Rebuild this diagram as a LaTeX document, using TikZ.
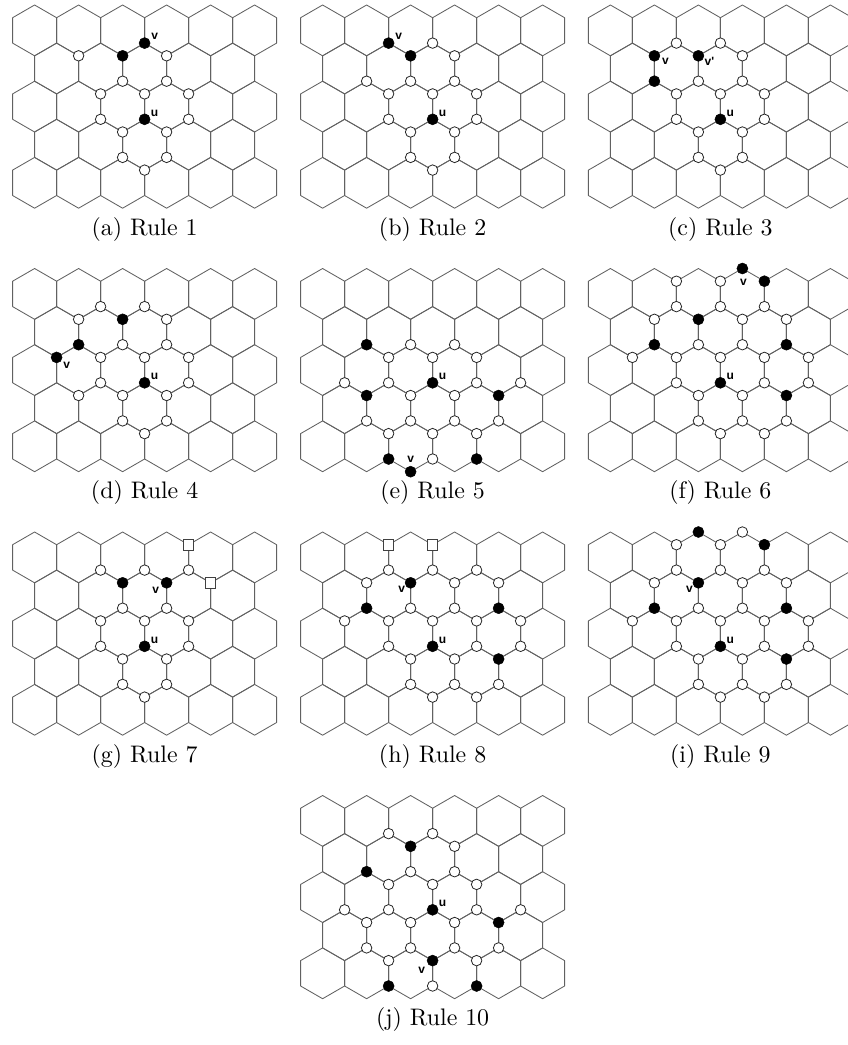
\documentclass[tikz,border=0pt]{standalone}
\usepackage{fontspec}
\usepackage{graphicx}
\newfontfamily\labfont{Liberation Sans}
\usetikzlibrary{calc}

% one unit = one point, y grows downwards
\tikzset{
  x=1pt, y=-1pt,
  hexline/.style={draw=black!62, line width=0.85pt, line join=round},
  od/.style={circle, draw=black!85, line width=0.8pt, fill=white, inner sep=0pt, minimum size=10.5pt},
  fd/.style={circle, fill=black, draw=black, line width=0.5pt, inner sep=0pt, minimum size=11pt},
  sq/.style={rectangle, draw=black!75, line width=0.8pt, fill=white, inner sep=0pt, minimum size=10.5pt},
  lab/.style={font=\labfont\bfseries\fontsize{12}{12}\selectfont, inner sep=0pt},
  capt/.style={anchor=base, inner sep=0pt}
}

% hexagonal grid: 5 rows, 6/5/6/5/6 pointy-top cells of width 44 and radius 25.4
\newcommand\hexgrid{%
  \foreach \r in {0,2,4}{\foreach \c in {1,3,...,11}{%
    \draw[hexline] (\c*22, 38.1*\r) -- ++(22,12.7) -- ++(0,25.4) -- ++(-22,12.7)
      -- ++(-22,-12.7) -- ++(0,-25.4) -- cycle;}}%
  \foreach \r in {1,3}{\foreach \c in {2,4,...,10}{%
    \draw[hexline] (\c*22, 38.1*\r) -- ++(22,12.7) -- ++(0,25.4) -- ++(-22,12.7)
      -- ++(-22,-12.7) -- ++(0,-25.4) -- cycle;}}%
}
% lattice vertex: column i (half cell widths), level j (0..11)
\newcommand\opn[2]{\foreach \i/\j in {#2}{\node[od] (#1-\i-\j) at ({\i*22},{19.05*\j-6.35*mod(\j,2)}) {};}}
\newcommand\fil[2]{\foreach \i/\j in {#2}{\node[fd] (#1-\i-\j) at ({\i*22},{19.05*\j-6.35*mod(\j,2)}) {};}}
\newcommand\sqr[2]{\foreach \i/\j in {#2}{\node[sq] (#1-\i-\j) at ({\i*22},{19.05*\j-6.35*mod(\j,2)}) {};}}
\newcommand\capn[2]{\node[capt] (#1-cap) at (132,230) {\scalebox{2.39}{\fontsize{10}{12}\selectfont #2}};}

\begin{document}
\begin{tikzpicture}
\useasboundingbox (0,0) rectangle (848,1045);
\clip (0,0) rectangle (848,1045);

% (a) Rule 1
\begin{scope}[shift={(12.6,5)}]
  \hexgrid
  \opn{a}{3/3,7/3,5/4,7/4,4/5,6/5,8/5,4/6,8/6,5/7,7/7,5/8,7/8,6/9}
  \fil{a}{6/2,5/3,6/6}
  \node[lab, xshift=10pt, yshift=7pt] (a-v) at (a-6-2) {v};
  \node[lab, xshift=10pt, yshift=6pt] (a-u) at (a-6-6) {u};
  \capn{a}{(a) Rule 1}
\end{scope}

% (b) Rule 2
\begin{scope}[shift={(300.6,5)}]
  \hexgrid
  \opn{b}{6/2,7/3,3/4,5/4,7/4,4/5,6/5,8/5,4/6,8/6,5/7,7/7,5/8,7/8,6/9}
  \fil{b}{4/2,5/3,6/6}
  \node[lab, xshift=10pt, yshift=7pt] (b-v) at (b-4-2) {v};
  \node[lab, xshift=10pt, yshift=6pt] (b-u) at (b-6-6) {u};
  \capn{b}{(b) Rule 2}
\end{scope}

% (c) Rule 3
\begin{scope}[shift={(588.4,5)}]
  \hexgrid
  \opn{c}{4/2,6/2,7/3,5/4,7/4,4/5,6/5,8/5,4/6,8/6,5/7,7/7,5/8,7/8,6/9}
  \fil{c}{3/3,3/4,5/3,6/6}
  \node[lab, xshift=11pt, yshift=-6pt] (c-v) at (c-3-3) {v};
  \node[lab, xshift=11pt, yshift=-6pt] (c-vp) at (c-5-3) {v'};
  \node[lab, xshift=10pt, yshift=6pt] (c-u) at (c-6-6) {u};
  \capn{c}{(c) Rule 3}
\end{scope}

% (d) Rule 4
\begin{scope}[shift={(12.6,268.5)}]
  \hexgrid
  \opn{d}{4/2,6/2,3/3,7/3,5/4,7/4,4/5,6/5,8/5,4/6,8/6,3/7,5/7,7/7,5/8,7/8,6/9}
  \fil{d}{5/3,3/4,2/5,6/6}
  \node[lab, xshift=10pt, yshift=-8pt] (d-v) at (d-2-5) {v};
  \node[lab, xshift=10pt, yshift=6pt] (d-u) at (d-6-6) {u};
  \capn{d}{(d) Rule 4}
\end{scope}

% (e) Rule 5
\begin{scope}[shift={(300.6,268.5)}]
  \hexgrid
  \opn{e}{5/4,7/4,4/5,6/5,8/5,2/6,4/6,8/6,10/6,5/7,7/7,3/8,5/8,7/8,9/8,4/9,6/9,8/9,6/10}
  \fil{e}{3/4,3/7,9/7,4/10,8/10,5/11,6/6}
  \node[lab, yshift=12pt] (e-v) at (e-5-11) {v};
  \node[lab, xshift=10pt, yshift=6pt] (e-u) at (e-6-6) {u};
  \capn{e}{(e) Rule 5}
\end{scope}

% (f) Rule 6
\begin{scope}[shift={(588.4,268.5)}]
  \hexgrid
  \opn{f}{4/1,6/1,4/2,6/2,8/2,3/3,7/3,9/3,5/4,7/4,2/5,4/5,6/5,8/5,10/5,4/6,8/6,10/6,5/7,7/7,5/8,7/8,9/8,6/9,8/9}
  \fil{f}{7/0,8/1,5/3,3/4,9/4,9/7,6/6}
  \node[lab, xshift=1pt, yshift=-14pt] (f-v) at (f-7-0) {v};
  \node[lab, xshift=10pt, yshift=6pt] (f-u) at (f-6-6) {u};
  \capn{f}{(f) Rule 6}
\end{scope}

% (g) Rule 7
\begin{scope}[shift={(12.6,532)}]
  \hexgrid
  \opn{g}{4/2,6/2,8/2,5/4,7/4,4/5,6/5,8/5,4/6,8/6,5/7,7/7,5/8,7/8,6/9}
  \fil{g}{5/3,7/3,6/6}
  \sqr{g}{8/1,9/3}
  \node[lab, xshift=-11pt, yshift=-8pt] (g-v) at (g-7-3) {v};
  \node[lab, xshift=10pt, yshift=6pt] (g-u) at (g-6-6) {u};
  \capn{g}{(g) Rule 7}
\end{scope}

% (h) Rule 8
\begin{scope}[shift={(300.6,532)}]
  \hexgrid
  \opn{h}{4/2,6/2,8/2,3/3,7/3,9/3,5/4,7/4,2/5,4/5,6/5,8/5,10/5,4/6,8/6,10/6,5/7,7/7,5/8,7/8,9/8,6/9,8/9}
  \fil{h}{5/3,3/4,9/4,9/7,6/6}
  \sqr{h}{4/1,6/1}
  \node[lab, xshift=-9pt, yshift=-7pt] (h-v) at (h-5-3) {v};
  \node[lab, xshift=10pt, yshift=6pt] (h-u) at (h-6-6) {u};
  \capn{h}{(h) Rule 8}
\end{scope}

% (i) Rule 9
\begin{scope}[shift={(588.4,532)}]
  \hexgrid
  \opn{i}{7/0,4/1,6/1,4/2,6/2,8/2,3/3,7/3,9/3,5/4,7/4,2/5,4/5,6/5,8/5,10/5,4/6,8/6,10/6,5/7,7/7,5/8,7/8,9/8,6/9,8/9}
  \fil{i}{5/0,8/1,5/3,3/4,9/4,9/7,6/6}
  \node[lab, xshift=-9pt, yshift=-7pt] (i-v) at (i-5-3) {v};
  \node[lab, xshift=10pt, yshift=6pt] (i-u) at (i-6-6) {u};
  \capn{i}{(i) Rule 9}
\end{scope}

% (j) Rule 10
\begin{scope}[shift={(300.6,795.5)}]
  \hexgrid
  \opn{j}{4/2,6/2,7/3,5/4,7/4,4/5,6/5,8/5,2/6,4/6,8/6,10/6,3/7,5/7,7/7,3/8,5/8,7/8,9/8,4/9,8/9,6/10}
  \fil{j}{5/3,3/4,9/7,6/9,4/10,8/10,6/6}
  \node[lab, xshift=-11pt, yshift=-10pt] (j-v) at (j-6-9) {v};
  \node[lab, xshift=10pt, yshift=6pt] (j-u) at (j-6-6) {u};
  \capn{j}{(j) Rule 10}
\end{scope}
\end{tikzpicture}
\end{document}
